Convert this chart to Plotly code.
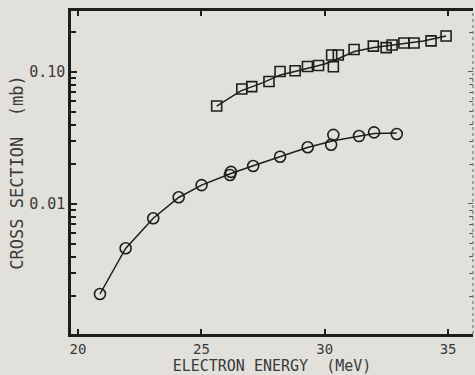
import plotly.graph_objects as go

# lower series (circles)
low_e = [20.89, 21.93, 23.05, 24.08, 25.01, 26.16, 26.2, 27.1, 28.19, 29.31, 30.26, 30.35, 31.39, 32.0, 32.92]
low_cs = [0.00208, 0.00462, 0.0078, 0.01125, 0.0139, 0.0166, 0.0175, 0.0194, 0.0228, 0.0269, 0.0281, 0.0334, 0.0327, 0.0349, 0.0339]
low_fit_e = [20.89, 21.93, 23.05, 24.08, 25.01, 26.2, 27.1, 28.2, 29.3, 30.3, 31.4, 32.0, 32.92]
low_fit_cs = [0.00208, 0.0046, 0.0078, 0.0112, 0.0139, 0.017, 0.0195, 0.0228, 0.0268, 0.0300, 0.0327, 0.0342, 0.0345]

# upper series (squares)
up_e = [25.62, 26.64, 27.04, 27.74, 28.19, 28.8, 29.3, 29.75, 30.28, 30.35, 30.55, 31.19, 31.97, 32.49, 32.73, 33.21, 33.62, 34.31, 34.92]
up_cs = [0.0552, 0.0743, 0.0775, 0.0848, 0.1008, 0.1023, 0.110, 0.112, 0.1346, 0.1096, 0.1346, 0.148, 0.157, 0.153, 0.160, 0.166, 0.166, 0.172, 0.1875]
up_fit_e = [25.62, 26.6, 27.5, 28.2, 29.0, 30.0, 30.5, 31.2, 32.0, 33.0, 34.0, 34.92]
up_fit_cs = [0.0552, 0.072, 0.083, 0.095, 0.103, 0.115, 0.125, 0.143, 0.153, 0.163, 0.172, 0.1875]

minor_vals = [0.002, 0.003, 0.004, 0.005, 0.006, 0.007, 0.008, 0.009,
              0.02, 0.03, 0.04, 0.05, 0.06, 0.07, 0.08, 0.09, 0.2, 0.3]

ink = '#1e1e1e'
bg = '#e2e0da'
font = dict(family='DejaVu Sans Mono', size=15, color='#3a3a3a')

fig = go.Figure()
fig.add_trace(go.Scatter(x=low_fit_e, y=low_fit_cs, mode='lines',
                         line=dict(color=ink, width=1.5), showlegend=False))
fig.add_trace(go.Scatter(x=up_fit_e, y=up_fit_cs, mode='lines',
                         line=dict(color=ink, width=1.5), showlegend=False))
fig.add_trace(go.Scatter(x=low_e, y=low_cs, mode='markers',
                         marker=dict(symbol='circle-open', size=11, color=ink, line=dict(width=1.6)),
                         showlegend=False))
fig.add_trace(go.Scatter(x=up_e, y=up_cs, mode='markers',
                         marker=dict(symbol='square-open', size=10, color=ink, line=dict(width=1.6)),
                         showlegend=False))
# invisible trace so the right-hand axis gets drawn
fig.add_trace(go.Scatter(x=[30], y=[0.01], yaxis='y2', mode='markers',
                         marker=dict(opacity=0), showlegend=False, hoverinfo='skip'))

fig.update_layout(
    width=475, height=375,
    margin=dict(l=71, r=2, t=11, b=41),
    paper_bgcolor=bg, plot_bgcolor=bg,
    font=font,
    xaxis=dict(range=[19.716, 36.01], tickvals=[20, 25, 30, 35],
               ticks='inside', ticklen=5, tickwidth=1.5, tickcolor=ink,
               tickfont=dict(size=14),
               showline=True, linecolor=ink, linewidth=2.5, mirror='ticks',
               showgrid=False, zeroline=False,
               title=dict(text='ELECTRON ENERGY  (MeV)', standoff=0, font=dict(size=15))),
    yaxis=dict(type='log', range=[-2.985, -0.538],
               tickvals=[0.01, 0.1], ticktext=['0.01', '0.10'],
               ticks='inside', ticklen=6, tickwidth=1.5, tickcolor=ink,
               minor=dict(tickvals=minor_vals, ticks='inside', ticklen=5, tickwidth=1.5, tickcolor=ink),
               showline=True, linecolor=ink, linewidth=2.5,
               showgrid=False, zeroline=False,
               title=dict(text='CROSS SECTION  (mb)', standoff=2, font=dict(size=17))),
    yaxis2=dict(type='log', range=[-2.985, -0.538], overlaying='y', side='right',
                tickvals=[0.01, 0.1], showticklabels=False,
                ticks='inside', ticklen=5, tickwidth=1.2, tickcolor='#555',
                minor=dict(tickvals=minor_vals, ticks='inside', ticklen=4, tickwidth=1.2, tickcolor='#555'),
                showline=False, showgrid=False, zeroline=False),
)
fig.add_shape(type='line', xref='paper', yref='paper', x0=1, x1=1, y0=0, y1=1,
              line=dict(color='#777', width=1.2, dash='dot'))

# drop the default page margin so the figure sits at the window corner
fig.write_html("out.html", config={'displayModeBar': False},
               post_script="document.body.style.margin='0';")
